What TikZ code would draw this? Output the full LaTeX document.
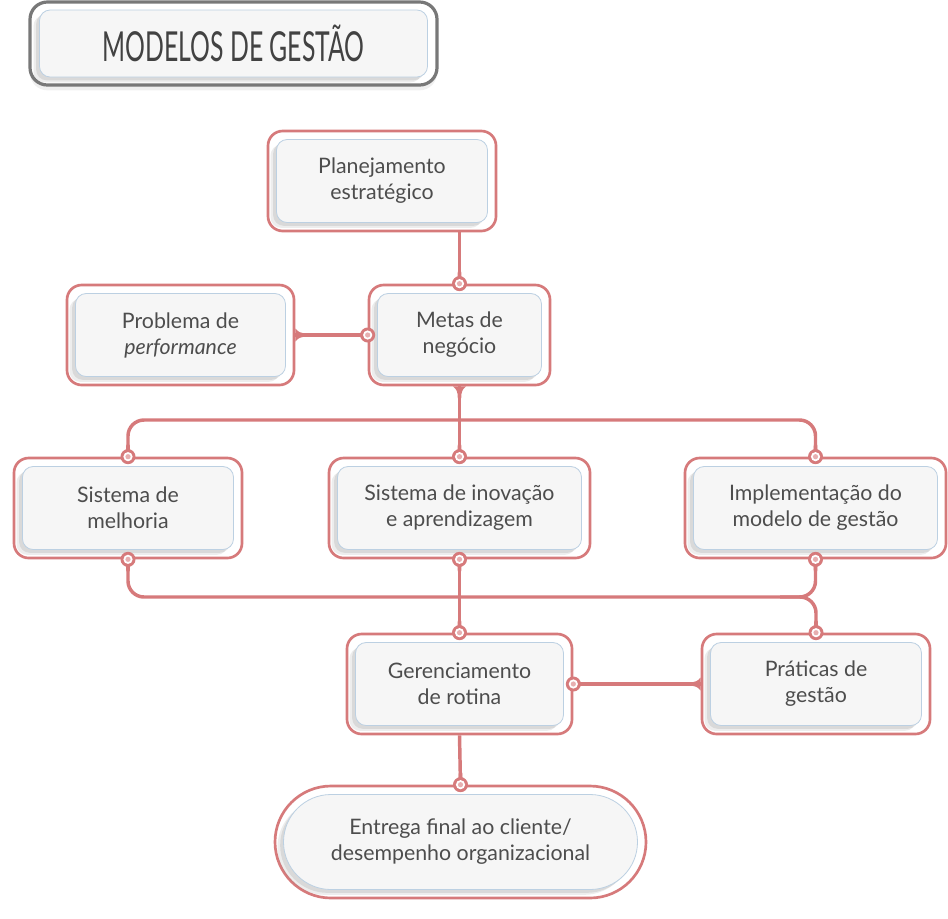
\documentclass[tikz,border=0pt]{standalone}
\usepackage{fontspec}
\setmainfont{Lato}
\newfontfamily\titlefont[FakeStretch=0.6]{Lato}
\usepackage{tikz}
\usetikzlibrary{positioning,shadows,shapes.misc,calc}
\definecolor{linkred}{RGB}{214,122,123}
\definecolor{ink}{RGB}{77,77,77}
\definecolor{cardbg}{RGB}{246,246,246}
\definecolor{cardedge}{RGB}{188,208,226}
\definecolor{titleedge}{RGB}{120,120,120}

\begin{document}
\begin{tikzpicture}[x=0.75pt, y=-0.75pt, every node/.style={font=\fontsize{16}{19.5}\selectfont, text=ink}]
\tikzset{frame/.style 2 args={draw=linkred, line width=2pt, fill=white, rounded corners=11pt, inner sep=0pt, minimum width=#1*0.75pt, minimum height=#2*0.75pt}}
\tikzset{card/.style 2 args={draw=cardedge, line width=0.6pt, fill=cardbg, rounded corners=8pt, inner sep=0pt, align=center, minimum width=(#1-17)*0.75pt, minimum height=(#2-17)*0.75pt, drop shadow={shadow xshift=-4.5pt, shadow yshift=-4pt, opacity=.14}, drop shadow={shadow xshift=-2.5pt, shadow yshift=-2.5pt, opacity=.18}}}
\tikzset{link/.style={draw=linkred, line width=2.6pt}}
\tikzset{branch/.style={link, rounded corners=12pt}}
\tikzset{flare/.pic={\fill[linkred] (-6.5,0) .. controls (-3,-3) and (-1.7,-5) .. (-1.7,-12) -- (1.7,-12) .. controls (1.7,-5) and (3,-3) .. (6.5,0) -- cycle;}}
\useasboundingbox (0,0) rectangle (948,918);
% title
\node[draw=titleedge, line width=2.4pt, fill=white, rounded corners=13pt, inner sep=0pt, minimum width=407*0.75pt, minimum height=83*0.75pt, drop shadow={shadow xshift=0pt, shadow yshift=-4pt, opacity=.12}] (title) at (233.5,43.5) {};
\node[card={405}{84}, font=\titlefont\fontsize{31}{32}\selectfont, text=ink!85!black] (title-c) at (title) {MODELOS DE GESTÃO};
% blocks
\node[frame={228}{100}] (plan) at (382,181) {};
\node[card={228}{100}] (plan-c) at (plan) {Planejamento\\estratégico};
\node[frame={181}{100}] (metas) at (459.5,335) {};
\node[card={181}{100}] (metas-c) at (metas) {Metas de\\negócio};
\node[frame={227}{100}] (prob) at (180.5,335) {};
\node[card={227}{100}] (prob-c) at (prob) {Problema de\\\textit{performance}};
\node[frame={228}{100}] (melh) at (128,508) {};
\node[card={228}{100}] (melh-c) at (melh) {Sistema de\\melhoria};
\node[frame={261}{100}] (inov) at (459.5,508) {};
\node[card={261}{100}] (inov-c) at (inov) {Sistema de inovação\\e aprendizagem};
\node[frame={261}{100}] (impl) at (815.5,508) {};
\node[card={261}{100}] (impl-c) at (impl) {Implementação do\\modelo de gestão};
\node[frame={225}{100}] (ger) at (459.5,684) {};
\node[card={225}{100}] (ger-c) at (ger) {Gerenciamento\\de rotina};
\node[frame={228}{100}] (prat) at (816,684) {};
\node[card={228}{100}] (prat-c) at (prat) {Práticas de\\gestão};
\node[frame={371}{112}, rounded rectangle, sharp corners] (ent) at (460.5,842) {};
\node[card={371}{112}, rounded rectangle, sharp corners] (ent-c) at (ent) {Entrega final ao cliente/\\desempenho organizacional};
% connectors
\draw[link] (metas.north |- plan.south) -- (metas.north);
\draw[link] (prob.east) -- (metas.west);
\draw[link] (metas.south) -- (inov.north);
\coordinate (split) at (459.5,420);
\draw[branch] (split) -| (melh.north);
\draw[branch] (split) -| (impl.north);
\coordinate (merge) at (780,597);
\draw[branch] (melh.south) |- (impl.south |- merge) -- (impl.south);
\draw[branch] (merge) -| (prat.north);
\draw[link] (inov.south) -- (ger.north);
\draw[link] (prat.west) -- (ger.east);
\draw[link] (ger.south) -- (ent.north);
% flares where lines meet boxes
\foreach \p in {metas.north, melh.north, inov.north, impl.north, ger.north, prat.north, ent.north}
  \pic at (\p) {flare};
\foreach \p in {melh.south, inov.south, impl.south, metas.south}
  \pic[rotate=180] at (\p) {flare};
\pic[rotate=90] at (metas.west) {flare};
\pic[rotate=-90] at (ger.east) {flare};
\pic[rotate=-90] at (prob.east) {flare};
\pic[rotate=90] at (prat.west) {flare};
% dots
\foreach \p in {metas.north, metas.west, melh.north, inov.north, impl.north, melh.south, inov.south, impl.south, ger.north, prat.north, ger.east, ent.north} {
  \fill[linkred] (\p) circle (7.5);
  \fill[white] (\p) circle (4.6);
  \fill[linkred!60] (\p) circle (2.6);
}
\end{tikzpicture}
\end{document}
